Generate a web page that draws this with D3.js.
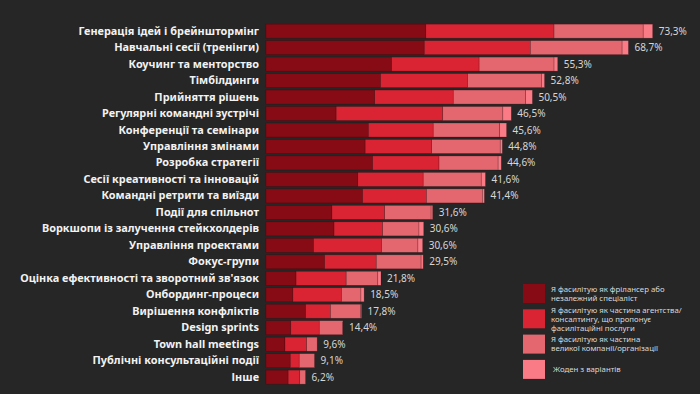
<!DOCTYPE html>
<html>
<head>
<meta charset="utf-8">
<script src="https://cdn.jsdelivr.net/npm/d3@7"></script>
<style>
  html, body { margin: 0; padding: 0; background: #262626; }
  svg { display: block; }
</style>
</head>
<body>
<svg id="svg" width="700" height="394"></svg>
<script>
// Категорії (зверху вниз)
var categories = [
  "Генерація ідей і брейнштормінг",
  "Навчальні сесії (тренінги)",
  "Коучинг та менторство",
  "Тімбілдинги",
  "Прийняття рішень",
  "Регулярні командні зустрічі",
  "Конференції та семінари",
  "Управління змінами",
  "Розробка стратегії",
  "Сесії креативності та інновацій",
  "Командні ретрити та виїзди",
  "Події для спільнот",
  "Воркшопи із залучення стейкхолдерів",
  "Управління проектами",
  "Фокус-групи",
  "Оцінка ефективності та зворотний зв'язок",
  "Онбординг-процеси",
  "Вирішення конфліктів",
  "Design sprints",
  "Town hall meetings",
  "Публічні консультаційні події",
  "Інше"
];

// Серії (%)
var freelancer = [30.3, 30.0, 23.8, 21.7, 20.6, 13.3, 19.4, 18.8, 20.2, 17.4, 18.3, 12.5, 12.9, 9.0, 11.1, 5.7, 5.1, 7.5, 4.7, 3.6, 4.6, 4.2];
var agency     = [24.3, 20.1, 16.6, 16.5, 14.9, 20.2, 12.3, 12.6, 12.6, 12.4, 12.1, 10.0, 9.2, 12.9, 9.8, 9.5, 9.2, 4.7, 5.4, 4.1, 1.7, 2.2];
var company    = [16.9, 17.4, 14.2, 14.0, 13.7, 11.4, 12.6, 13.0, 11.2, 11.0, 10.6, 8.8, 6.9, 6.9, 8.5, 6.0, 3.7, 5.7, 4.4, 2.0, 2.9, 1.1];
var none       = [1.8, 1.2, 0.7, 0.6, 1.3, 1.6, 1.3, 0.4, 0.6, 0.8, 0.4, 0.3, 0.9, 0.9, 0.4, 0.6, 0.6, 0.2, 0.1, 0.0, 0.0, 0.0];

// Підписи підсумків
var totals = ["73,3%", "68,7%", "55,3%", "52,8%", "50,5%", "46,5%", "45,6%", "44,8%", "44,6%", "41,6%", "41,4%",
              "31,6%", "30,6%", "30,6%", "29,5%", "21,8%", "18,5%", "17,8%", "14,4%", "9,6%", "9,1%", "6,2%"];

var seriesKeys = ["freelancer", "agency", "company", "none"];
var seriesColors = ["#870b15", "#da2433", "#e4666f", "#fa7b86"];
var legendLines = [
  ["Я фасилітую як фрілансер або", "незалежний спеціаліст"],
  ["Я фасилітую як частина агентства/", "консалтингу, що пропонує", "фасилітаційні послуги"],
  ["Я фасилітую як частина", "великої компанії/організації"],
  ["Жоден з варіантів"]
];

var rows = categories.map(function(c, i) {
  return { cat: c, freelancer: freelancer[i], agency: agency[i], company: company[i], none: none[i], total: totals[i] };
});

var svg = d3.select("#svg");
var font = "'Noto Sans', sans-serif";

var scaleY = d3.scaleBand().domain(categories).range([23, 385.3]).paddingInner(0.15).paddingOuter(0.07);
var scaleX = d3.scaleLinear().domain([0, 73.3]).range([266, 652.7]);

var layers = d3.stack().keys(seriesKeys)(rows);

// Бари
var gLayers = svg.append("g");
layers.forEach(function(layer, k) {
  gLayers.append("g")
    .attr("fill", seriesColors[k])
    .selectAll("rect")
    .data(layer)
    .enter()
    .append("rect")
    .attr("x", function(d) { return scaleX(d[0]); })
    .attr("y", function(d) { return scaleY(d.data.cat); })
    .attr("width", function(d) { return Math.max(0, scaleX(d[1]) - scaleX(d[0])); })
    .attr("height", scaleY.bandwidth())
    .attr("stroke", "rgba(40,10,12,0.35)")
    .attr("stroke-width", 0.6);
});

// Підписи категорій
var axisY = d3.axisLeft(scaleY).tickSize(0).tickPadding(7);
var gAxisY = svg.append("g").attr("transform", "translate(266,0)").call(axisY);
gAxisY.select(".domain").remove();
gAxisY.selectAll("text")
  .attr("fill", "#f2f2f2")
  .style("font-family", font)
  .style("font-weight", "700")
  .style("font-size", "10.9px");

// Підсумки
svg.append("g").selectAll("text")
  .data(rows)
  .enter()
  .append("text")
  .attr("x", function(d) { return scaleX(d.freelancer + d.agency + d.company + d.none) + 6; })
  .attr("y", function(d) { return scaleY(d.cat) + scaleY.bandwidth() / 2; })
  .attr("dy", "0.35em")
  .attr("fill", "#d6d6d6")
  .style("font-family", font)
  .style("font-size", "10px")
  .text(function(d) { return d.total; });

// Легенда
var legend = svg.append("g").attr("transform", "translate(523,284)");
legendLines.forEach(function(lines, k) {
  var g = legend.append("g").attr("transform", "translate(0," + (k * 25.3) + ")");
  g.append("rect").attr("width", 22).attr("height", 19).attr("fill", seriesColors[k]);
  var top = 9.5 - (lines.length - 1) * 4.5;
  var txt = g.append("text")
    .attr("fill", "#d9d9d9")
    .style("font-family", font)
    .style("font-size", "7.8px");
  lines.forEach(function(t, j) {
    txt.append("tspan")
      .attr("x", k === 3 ? 30 : 28)
      .attr("y", top + j * 9)
      .attr("dy", "0.35em")
      .text(t);
  });
});
</script>
</body>
</html>
